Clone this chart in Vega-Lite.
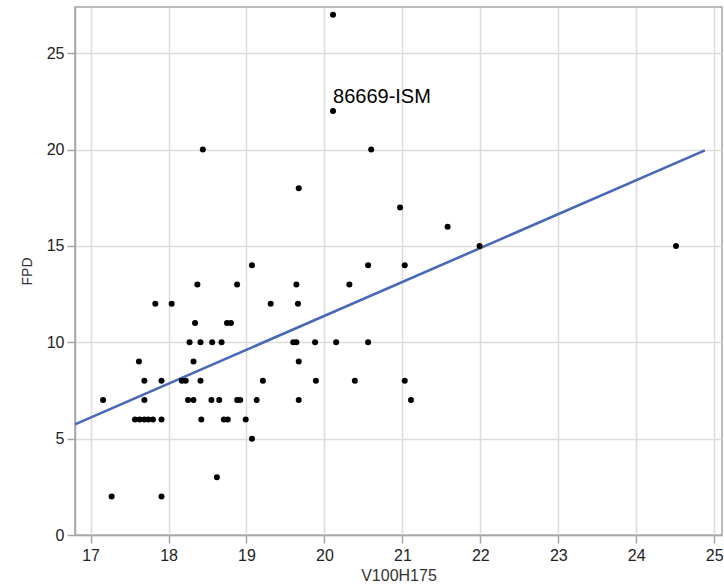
{
  "$schema": "https://vega.github.io/schema/vega-lite/v6.json",
  "width": 647,
  "height": 528,
  "autosize": {"type": "none"},
  "padding": {"left": 75, "top": 7, "right": 2, "bottom": 51},
  "background": "white",
  "config": {
    "view": {"stroke": "#a6a6a6", "strokeWidth": 1.5},
    "axis": {
      "labelFont": "Liberation Sans",
      "labelFontSize": 16,
      "labelColor": "#222222",
      "titleFont": "Liberation Sans",
      "titleFontWeight": "normal",
      "titleColor": "#333333",
      "gridColor": "#dcdcdc",
      "gridWidth": 1.5,
      "domainColor": "#a6a6a6",
      "domainWidth": 1.5,
      "tickColor": "#a6a6a6",
      "tickWidth": 1.5,
      "tickSize": 8
    }
  },
  "datasets": {
    "points": [
      {"V100H175": 20.11, "FPD": 27},
      {"V100H175": 20.11, "FPD": 22, "label": "86669-ISM"},
      {"V100H175": 18.44, "FPD": 20},
      {"V100H175": 20.60, "FPD": 20},
      {"V100H175": 19.67, "FPD": 18},
      {"V100H175": 20.97, "FPD": 17},
      {"V100H175": 21.58, "FPD": 16},
      {"V100H175": 21.99, "FPD": 15},
      {"V100H175": 24.51, "FPD": 15},
      {"V100H175": 19.07, "FPD": 14},
      {"V100H175": 20.56, "FPD": 14},
      {"V100H175": 21.03, "FPD": 14},
      {"V100H175": 18.37, "FPD": 13},
      {"V100H175": 18.88, "FPD": 13},
      {"V100H175": 19.64, "FPD": 13},
      {"V100H175": 20.32, "FPD": 13},
      {"V100H175": 17.83, "FPD": 12},
      {"V100H175": 18.04, "FPD": 12},
      {"V100H175": 19.31, "FPD": 12},
      {"V100H175": 19.66, "FPD": 12},
      {"V100H175": 18.34, "FPD": 11},
      {"V100H175": 18.75, "FPD": 11},
      {"V100H175": 18.80, "FPD": 11},
      {"V100H175": 18.27, "FPD": 10},
      {"V100H175": 18.41, "FPD": 10},
      {"V100H175": 18.56, "FPD": 10},
      {"V100H175": 18.68, "FPD": 10},
      {"V100H175": 19.60, "FPD": 10},
      {"V100H175": 19.64, "FPD": 10},
      {"V100H175": 19.88, "FPD": 10},
      {"V100H175": 20.15, "FPD": 10},
      {"V100H175": 20.56, "FPD": 10},
      {"V100H175": 17.62, "FPD": 9},
      {"V100H175": 18.32, "FPD": 9},
      {"V100H175": 19.67, "FPD": 9},
      {"V100H175": 17.69, "FPD": 8},
      {"V100H175": 17.91, "FPD": 8},
      {"V100H175": 18.17, "FPD": 8},
      {"V100H175": 18.22, "FPD": 8},
      {"V100H175": 18.41, "FPD": 8},
      {"V100H175": 19.21, "FPD": 8},
      {"V100H175": 19.89, "FPD": 8},
      {"V100H175": 20.39, "FPD": 8},
      {"V100H175": 21.03, "FPD": 8},
      {"V100H175": 17.16, "FPD": 7},
      {"V100H175": 17.69, "FPD": 7},
      {"V100H175": 18.25, "FPD": 7},
      {"V100H175": 18.32, "FPD": 7},
      {"V100H175": 18.55, "FPD": 7},
      {"V100H175": 18.65, "FPD": 7},
      {"V100H175": 18.88, "FPD": 7},
      {"V100H175": 18.92, "FPD": 7},
      {"V100H175": 19.13, "FPD": 7},
      {"V100H175": 19.67, "FPD": 7},
      {"V100H175": 21.11, "FPD": 7},
      {"V100H175": 17.57, "FPD": 6},
      {"V100H175": 17.63, "FPD": 6},
      {"V100H175": 17.69, "FPD": 6},
      {"V100H175": 17.74, "FPD": 6},
      {"V100H175": 17.80, "FPD": 6},
      {"V100H175": 17.91, "FPD": 6},
      {"V100H175": 18.42, "FPD": 6},
      {"V100H175": 18.71, "FPD": 6},
      {"V100H175": 18.76, "FPD": 6},
      {"V100H175": 18.99, "FPD": 6},
      {"V100H175": 19.07, "FPD": 5},
      {"V100H175": 18.62, "FPD": 3},
      {"V100H175": 17.27, "FPD": 2},
      {"V100H175": 17.91, "FPD": 2}
    ],
    "fit": [
      {"V100H175": 16.8, "FPD": 5.74},
      {"V100H175": 24.88, "FPD": 19.96}
    ]
  },
  "encoding": {
    "x": {
      "field": "V100H175",
      "type": "quantitative",
      "scale": {"domain": [16.8, 25.1], "nice": false, "zero": false},
      "axis": {"values": [17, 18, 19, 20, 21, 22, 23, 24, 25], "title": "V100H175", "titleFontSize": 16, "labelPadding": 4, "titlePadding": 4}
    },
    "y": {
      "field": "FPD",
      "type": "quantitative",
      "scale": {"domain": [0, 27.4], "nice": false, "zero": true},
      "axis": {"values": [0, 5, 10, 15, 20, 25], "title": "FPD", "titleFontSize": 14, "labelPadding": 3, "titlePadding": 12}
    }
  },
  "layer": [
    {
      "data": {"name": "fit"},
      "mark": {"type": "line", "color": "#4a68b8", "strokeWidth": 2.6, "clip": true}
    },
    {
      "data": {"name": "points"},
      "mark": {"type": "point", "filled": true, "color": "#000000", "opacity": 1, "size": 36}
    },
    {
      "data": {"name": "points"},
      "transform": [{"filter": "datum.label != null"}],
      "mark": {"type": "text", "align": "left", "baseline": "alphabetic", "dx": 0, "dy": -8, "font": "Liberation Sans", "fontSize": 20, "color": "#000000"},
      "encoding": {"text": {"field": "label"}}
    }
  ]
}
